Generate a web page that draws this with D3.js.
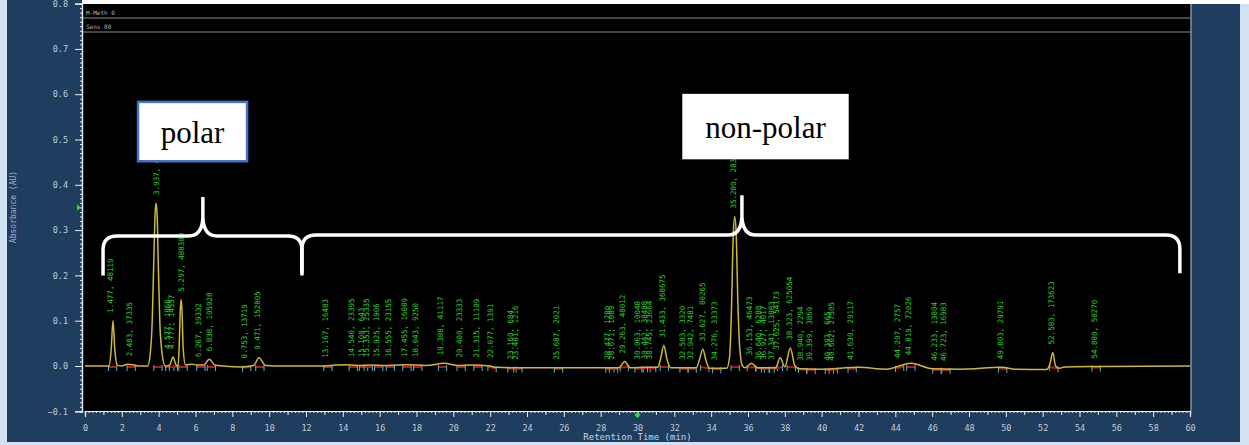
<!DOCTYPE html>
<html>
<head>
<meta charset="utf-8">
<script src="https://cdn.jsdelivr.net/npm/d3@7"></script>
<style>
  body { margin: 0; background: #ffffff; }
  svg { display: block; }
  .mono { font-family: "DejaVu Sans Mono", "Liberation Mono", monospace; }
</style>
</head>
<body>
<svg id="chart" width="1249" height="445"></svg>
<script>
const width = 1249, height = 445;

// axis ticks
const xTicks = d3.range(0, 61, 2);
const yTicks = [-0.1, 0.0, 0.1, 0.2, 0.3, 0.4, 0.5, 0.6, 0.7, 0.8];

// chromatogram trace (min, AU)
const traceTime = [0, 1.2, 1.30, 1.42, 1.52, 1.62, 1.76, 2.0, 2.3, 2.6, 2.9, 3.2, 3.40, 3.55, 3.65, 3.74, 3.80, 3.86, 3.92, 3.98, 4.06, 4.18, 4.35, 4.6, 4.78, 4.95, 5.05, 5.12, 5.17, 5.22, 5.27, 5.33, 5.45, 5.8, 6.1, 6.45, 6.75, 7.05, 7.5, 8.5, 9.15, 9.45, 9.8, 10.3, 13.0, 13.6, 14.2, 14.8, 15.5, 16.3, 17.5, 18.5, 19.5, 20.3, 21.0, 22.0, 22.3, 24.0, 26.0, 28.3, 29.0, 29.3, 29.6, 30.5, 31.1, 31.25, 31.43, 31.6, 31.8, 33.2, 33.35, 33.55, 33.72, 33.9, 34.85, 35.0, 35.1, 35.2, 35.28, 35.36, 35.45, 35.55, 35.7, 35.85, 36.2, 36.5, 37.5, 37.75, 38.0, 38.3, 38.55, 38.8, 40.0, 42.0, 43.5, 44.85, 46.0, 47.5, 49.8, 50.5, 52.2, 52.4, 52.55, 52.7, 52.9, 53.2, 55.0, 60.0];
const traceAU = [0, 0, 0.0, 0.035, 0.100, 0.035, 0.002, 0.0, 0.004, 0.003, 0.0, 0.0, 0.0, 0.03, 0.10, 0.24, 0.33, 0.36, 0.33, 0.22, 0.10, 0.03, 0.0, 0.002, 0.02, 0.002, 0.0, 0.05, 0.12, 0.147, 0.12, 0.04, 0.003, 0.004, 0.002, 0.002, 0.015, 0.002, 0.0, -0.002, 0.001, 0.018, 0.001, 0.0, 0.0, 0.002, 0.003, 0.001, 0.002, 0.001, 0.003, 0.001, 0.006, 0.001, 0.002, 0.0, -0.003, -0.004, -0.004, -0.004, -0.004, 0.010, -0.004, -0.003, -0.003, 0.015, 0.045, 0.015, -0.004, -0.004, 0.012, 0.037, 0.012, -0.005, -0.005, 0.02, 0.12, 0.29, 0.33, 0.29, 0.14, 0.04, 0.0, -0.004, 0.006, -0.004, -0.004, 0.018, -0.002, 0.04, 0.0, -0.006, -0.007, -0.003, -0.007, 0.006, -0.006, -0.007, -0.003, -0.007, -0.008, 0.005, 0.030, 0.0, -0.005, -0.002, -0.001, 0.0];

// peak labels (retention time, area)
const peakRT = [1.477, 2.483, 3.937, 4.577, 4.777, 5.297, 6.267, 6.838, 8.753, 9.471,
  13.167, 14.540, 15.100, 15.353, 15.925, 16.555, 17.455, 18.043, 19.388, 20.400, 21.315, 22.077, 23.160, 23.481, 25.687,
  28.477, 28.671, 29.263, 30.063, 30.442, 30.745, 31.433, 32.503, 32.942, 33.627, 34.276, 35.280,
  36.153, 36.640, 36.927, 37.341, 37.625, 38.323, 38.940, 39.399, 40.393, 40.602, 41.630,
  44.207, 44.819, 46.233, 46.723, 49.803, 52.583, 54.880];
const peakArea = ["48119", "37335", "4869031", "1866", "14557", "488309", "39332", "105928", "13719", "152805",
  "16483", "23395", "643", "25335", "1906", "23155", "16089", "9250", "41117", "23333", "11109", "1391", "684", "1216", "2021",
  "1280", "1089", "48012", "10048", "38488", "23664", "368675", "3320", "7481", "80265", "33373", "2831246",
  "46473", "6288", "4017", "13883", "54173", "625054", "2294", "3869", "665", "27505", "29117",
  "2757", "72026", "13804", "16983", "29791", "173623", "50270"];

// annotation groups (min, AU)
const groupNames = ["polar", "non-polar"];
const groupStart = [0.98, 11.78];
const groupEnd = [11.78, 59.45];
const groupTip = [6.4, 35.67];
const braceLine = [0.287, 0.289];
const braceEnd = [0.200, 0.205];
const braceTipAU = [0.373, 0.377];
const boxX0 = [2.88, 32.5], boxX1 = [8.8, 41.4];
const boxTop = [0.583, 0.598], boxBottom = [0.452, 0.459];

const svg = d3.select("#chart");

// frame
svg.append("rect").attr("width", width).attr("height", height).attr("fill", "#d3e2f2");
svg.append("rect").attr("x", 7).attr("y", 0).attr("width", 1233).attr("height", 442).attr("fill", "#1f3d5f");
svg.append("rect").attr("x", 82).attr("y", 0).attr("width", 1167).attr("height", 4).attr("fill", "#ffffff");

const plot = { left: 82, right: 1191, top: 4, bottom: 411 };
svg.append("rect")
  .attr("x", plot.left).attr("y", plot.top)
  .attr("width", plot.right - plot.left).attr("height", plot.bottom - plot.top)
  .attr("fill", "#000");
svg.append("line")
  .attr("x1", plot.right).attr("x2", plot.right).attr("y1", plot.top).attr("y2", plot.bottom)
  .attr("stroke", "#8a929c").attr("stroke-width", 1.5);

const x = d3.scaleLinear().domain([0, 60]).range([85, 1190]);
const y = d3.scaleLinear().domain([-0.1, 0.8]).range([366 + 45.3, 366 - 8 * 45.3]);
const y0 = y(0) + (y(-0.1) - y(0)) * 0 ;

// header rows
[["M-Meth 0", 15, 18], ["Sens 80", 29, 32]].forEach(([t, ty, ly]) => {
  svg.append("text").attr("class", "mono").attr("x", 86).attr("y", ty)
    .attr("font-size", 6).attr("fill", "#b0b0b0").text(t);
  svg.append("line").attr("x1", plot.left).attr("x2", plot.right).attr("y1", ly).attr("y2", ly)
    .attr("stroke", "#8c8c8c").attr("stroke-width", 1.2);
});

// axes
function styleAxis(g, color) {
  g.select(".domain").attr("stroke", "#e8eef4").attr("stroke-width", 1.2);
  g.selectAll(".tick line").attr("stroke", "#e8eef4");
  g.selectAll(".tick text").attr("class", "mono").attr("fill", color).attr("font-size", 8.5);
}

const yMinor = svg.append("g").attr("transform", `translate(${plot.left},0)`)
  .call(d3.axisLeft(y).tickValues(d3.range(-0.1, 0.801, 0.01)).tickSize(2).tickFormat(""));
styleAxis(yMinor, "#c0ccd8");
const yAxis = svg.append("g").attr("transform", `translate(${plot.left},0)`)
  .call(d3.axisLeft(y).tickValues(yTicks).tickFormat(d3.format(".1f")).tickSize(7).tickPadding(7));
styleAxis(yAxis, "#c0ccd8");

const xMinor = svg.append("g").attr("transform", `translate(0,${plot.bottom})`)
  .call(d3.axisBottom(x).tickValues(d3.range(0, 60.01, 0.2)).tickSize(2).tickFormat(""));
styleAxis(xMinor, "#c0ccd8");
const xMid = svg.append("g").attr("transform", `translate(0,${plot.bottom})`)
  .call(d3.axisBottom(x).tickValues(d3.range(1, 60, 2)).tickSize(4).tickFormat(""));
styleAxis(xMid, "#c0ccd8");
const xAxis = svg.append("g").attr("transform", `translate(0,${plot.bottom})`)
  .call(d3.axisBottom(x).tickValues(xTicks).tickFormat(d3.format("d")).tickSize(6).tickPadding(8));
styleAxis(xAxis, "#c0ccd8");
[yMinor, yAxis, xMinor, xMid, xAxis].forEach(g => g.select(".domain").attr("stroke", "#e8eef4"));

svg.append("text").attr("class", "mono")
  .attr("transform", `translate(16,207) rotate(-90)`)
  .attr("text-anchor", "middle").attr("font-size", 8).attr("fill", "#9eb0c4")
  .text("Absorbance (AU)");
svg.append("text").attr("class", "mono")
  .attr("x", x(30)).attr("y", 440)
  .attr("text-anchor", "middle").attr("font-size", 9).attr("fill", "#c8d4e0")
  .text("Retention Time (min)");

// green markers
svg.append("path").attr("d", `M${plot.left - 5},${y(0.35) - 3} L${plot.left - 1},${y(0.35)} L${plot.left - 5},${y(0.35) + 3} Z`)
  .attr("fill", "#2ee02e");
svg.append("path").attr("d", `M${x(30)},${plot.bottom + 1} l3,3 l-3,3 l-3,-3 Z`).attr("fill", "#2ee02e");

// trace
const trace = traceTime.map((t, i) => ({ t, v: traceAU[i] }));
const bis = d3.bisector(d => d.t).left;
function valueAt(t) {
  const i = Math.max(1, Math.min(trace.length - 1, bis(trace, t)));
  const a = trace[i - 1], b = trace[i];
  return a.v + (b.v - a.v) * (t - a.t) / (b.t - a.t);
}
function maxNear(t, w) {
  let m = valueAt(t);
  trace.forEach(d => { if (Math.abs(d.t - t) <= w && d.v > m) m = d.v; });
  return m;
}

// integration baselines and peak marks
const marks = svg.append("g");
peakRT.forEach(rt => {
  const a = rt - 0.2, b = rt + 0.25;
  const ya = y(Math.min(valueAt(a), 0)) + 1, yb = y(Math.min(valueAt(b), 0)) + 1;
  marks.append("line").attr("x1", x(a)).attr("x2", x(b)).attr("y1", ya).attr("y2", yb)
    .attr("stroke", "#b81414").attr("stroke-width", 2);
  [[a, ya], [b, yb]].forEach(([t, yy]) => {
    marks.append("line").attr("x1", x(t)).attr("x2", x(t)).attr("y1", yy - 2).attr("y2", yy + 4)
      .attr("stroke", "#4fb4d8").attr("stroke-width", 1);
  });
});

svg.append("path")
  .datum(trace)
  .attr("fill", "none")
  .attr("stroke", "#cdb83a")
  .attr("stroke-width", 1.5)
  .attr("d", d3.line().x(d => x(d.t)).y(d => y(d.v)).curve(d3.curveMonotoneX));

// peak labels
svg.append("g").selectAll("text")
  .data(peakRT.map((rt, i) => ({ rt, area: peakArea[i] })))
  .join("text")
  .attr("class", "mono")
  .attr("font-size", 7.5)
  .attr("fill", "#2fcf2f")
  .attr("transform", d => `translate(${x(d.rt) + 1},${y(maxNear(d.rt, 0.25)) - 8}) rotate(-90)`)
  .text(d => `${d.rt.toFixed(3)}, ${d.area}`);

// braces
function bracePath(i) {
  const xa = x(groupStart[i]), xb = x(groupEnd[i]), xm = x(groupTip[i]);
  const yl = y(braceLine[i]), ye = y(braceEnd[i]), yt = y(braceTipAU[i]);
  const r = 14;
  return `M${xa},${ye} L${xa},${yl + r} Q${xa},${yl} ${xa + r},${yl} L${xm - r},${yl} Q${xm - 1},${yl} ${xm},${yl - 18} L${xm},${yt}` +
    ` M${xm},${yl - 18} Q${xm + 1},${yl} ${xm + r},${yl} L${xb - r},${yl} Q${xb},${yl} ${xb},${yl + r} L${xb},${y(braceEnd[i])}`;
}
groupNames.forEach((name, i) => {
  svg.append("path").attr("d", bracePath(i))
    .attr("fill", "none").attr("stroke", "#ffffff").attr("stroke-width", 3.5)
    .attr("stroke-linecap", "butt").attr("stroke-linejoin", "round");
  const bx = x(boxX0[i]), bw = x(boxX1[i]) - bx, by = y(boxTop[i]), bh = y(boxBottom[i]) - by;
  svg.append("rect").attr("x", bx).attr("y", by).attr("width", bw).attr("height", bh)
    .attr("fill", "#ffffff")
    .attr("stroke", i === 0 ? "#4472c4" : "#ffffff").attr("stroke-width", 2.5);
  svg.append("text")
    .attr("x", bx + bw / 2).attr("y", by + bh / 2 + 11)
    .attr("text-anchor", "middle")
    .attr("font-family", "'Liberation Serif', 'Times New Roman', serif")
    .attr("font-size", 31).attr("fill", "#000")
    .text(name);
});
</script>
</body>
</html>
